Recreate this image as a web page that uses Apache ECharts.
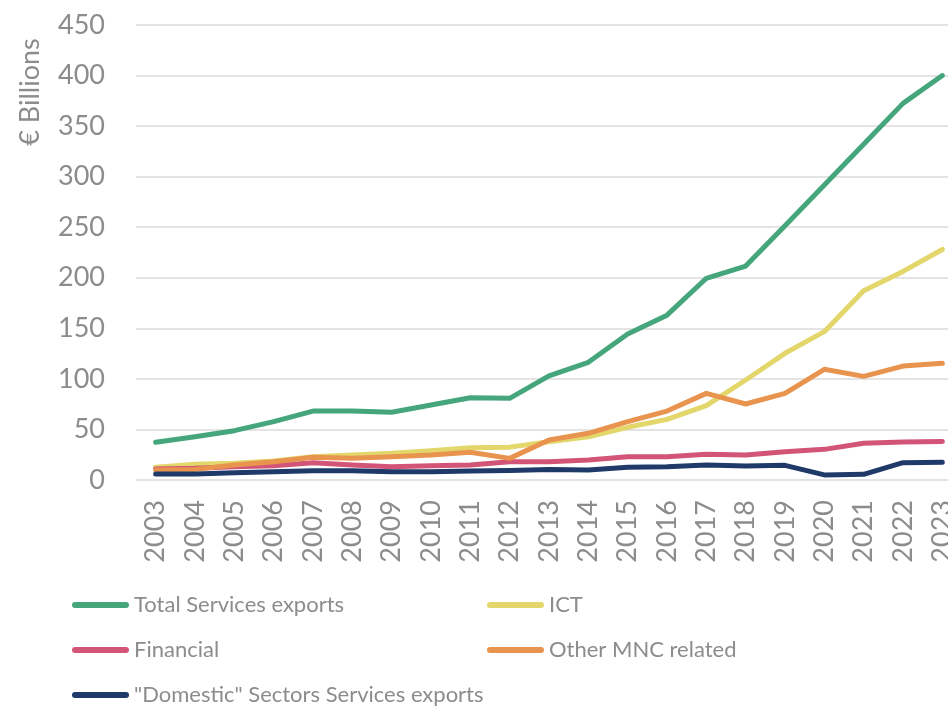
<!DOCTYPE html>
<html>
<head>
<meta charset="utf-8">
<script src="https://cdn.jsdelivr.net/npm/echarts@6/dist/echarts.min.js"></script>
<style>
  html, body { margin: 0; padding: 0; background: #ffffff; }
  #chart { width: 948px; height: 706px; }
</style>
</head>
<body>
<div id="chart"></div>
<script>
// Irish services exports by sector, € billions
const years = ['2003','2004','2005','2006','2007','2008','2009','2010','2011','2012','2013',
               '2014','2015','2016','2017','2018','2019','2020','2021','2022','2023'];

const totalServices = [37.3, 42.8, 48.8, 57.7, 68.2, 68.2, 67.0, 74.2, 81.4, 80.8, 103.0,
                       116.4, 144.4, 163.0, 199.5, 211.6, 251.5, 291.7, 332.0, 372.5, 400.0];
const ict = [12.5, 15.5, 16.5, 18.8, 23.0, 24.7, 26.4, 29.0, 32.0, 32.5, 37.9,
             42.8, 52.1, 60.0, 73.5, 98.9, 125.3, 146.7, 187.2, 206.3, 228.0];
const financial = [10.9, 11.5, 13.2, 14.2, 17.1, 14.8, 13.2, 14.2, 14.8, 18.1, 18.1,
                   19.8, 23.0, 23.0, 25.4, 24.7, 28.0, 30.3, 36.3, 37.6, 38.2];
const otherMnc = [9.9, 10.5, 14.8, 18.1, 22.4, 21.4, 23.0, 24.7, 27.4, 21.4, 39.6,
                  46.2, 57.7, 68.2, 85.7, 75.2, 85.7, 109.5, 102.5, 112.7, 115.4];
const domestic = [5.9, 5.9, 7.2, 8.2, 9.2, 9.2, 8.2, 8.2, 8.9, 9.5, 10.5,
                  9.9, 12.5, 13.2, 14.8, 13.8, 14.5, 5.0, 5.6, 17.1, 17.5];

const seriesNames = ['Total Services exports', 'ICT', 'Financial', 'Other MNC related',
                     '"Domestic" Sectors Services exports'];
const seriesData = [totalServices, ict, financial, otherMnc, domestic];
const seriesColors = ['#45a67c', '#e3d76b', '#d25577', '#e8944f', '#1f3a68'];

const yTicks = { min: 0, max: 450, interval: 50 };

const grey = '#8c8c8c';
const font = 'Lato, "Liberation Sans", sans-serif';
const capsule = 'path://M3,0 L54,0 A3,3 0 0 1 54,6 L3,6 A3,3 0 0 1 3,0 Z';

// legend slots: two columns, three rows
const legendSlots = [
  { left: 72, top: 594 }, { left: 487, top: 594 },
  { left: 72, top: 639 }, { left: 487, top: 639 },
  { left: 72, top: 684 }
];

const chart = echarts.init(document.getElementById('chart'), null, { renderer: 'canvas' });

chart.setOption({
  backgroundColor: '#ffffff',
  animation: false,
  textStyle: { fontFamily: font },
  grid: {
    left: 136, right: -14, top: 25, bottom: 226,
    containLabel: false,
    outerBoundsMode: 'none'
  },
  graphic: [{
    type: 'text',
    x: 30, y: 92,
    rotation: Math.PI / 2,
    style: {
      text: '€ Billions',
      fill: grey,
      font: '27px ' + font,
      align: 'center',
      verticalAlign: 'middle'
    }
  }],
  legend: seriesNames.map((name, i) => ({
    data: [name],
    left: legendSlots[i].left,
    top: legendSlots[i].top,
    icon: capsule,
    itemWidth: 57,
    itemHeight: 6,
    padding: 0,
    selectedMode: false,
    textStyle: { color: grey, fontSize: 22, fontFamily: font }
  })),
  xAxis: {
    type: 'category',
    data: years,
    boundaryGap: true,
    axisLine: { show: false },
    axisTick: { show: false },
    axisLabel: {
      rotate: 90,
      interval: 0,
      margin: 20,
      color: grey,
      fontSize: 27,
      fontFamily: font
    },
    splitLine: { show: false }
  },
  yAxis: {
    type: 'value',
    min: yTicks.min,
    max: yTicks.max,
    interval: yTicks.interval,
    axisLine: { show: false },
    axisTick: { show: false },
    axisLabel: {
      margin: 31,
      color: grey,
      fontSize: 27,
      fontFamily: font
    },
    splitLine: { lineStyle: { color: '#e4e4e4', width: 2 } }
  },
  series: seriesNames.map((name, i) => ({
    name: name,
    type: 'line',
    data: seriesData[i],
    showSymbol: false,
    symbol: 'none',
    color: seriesColors[i],
    lineStyle: { width: 5, color: seriesColors[i], cap: 'round', join: 'round' },
    emphasis: { disabled: true }
  }))
});
</script>
</body>
</html>
